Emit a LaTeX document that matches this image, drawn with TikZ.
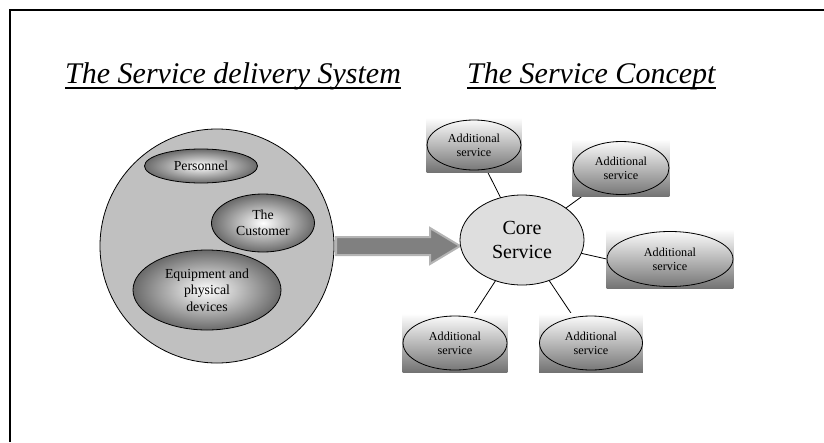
\documentclass[tikz,border=0pt]{standalone}
\usepackage{fontspec}
\setmainfont{Liberation Serif}
\usetikzlibrary{shapes.geometric,backgrounds}
\definecolor{sysgray}{HTML}{C0C0C0}
\definecolor{coregray}{HTML}{DEDEDE}
\definecolor{shadedark}{HTML}{6A6A6A}
\definecolor{addlmid}{HTML}{DADADA}
\definecolor{addldark}{HTML}{727272}
\definecolor{arrowfill}{HTML}{808080}
\definecolor{arrowedge}{HTML}{B4B4B4}
\begin{document}
\begin{tikzpicture}[x=1pt,y=-1pt,
  title/.style={inner sep=0pt,anchor=base west,font=\fontsize{30}{34}\selectfont\itshape},
  inbox/.style={ellipse,draw=black,line width=0.8pt,inner sep=0pt,
    inner color=white,outer color=shadedark,align=center,
    font=\fontsize{13.8}{16.3}\selectfont},
  addl/.style={ellipse,draw=black,line width=0.8pt,inner sep=0pt,align=center,
    font=\fontsize{12.2}{14}\selectfont},
  addlbg/.style={top color=white,middle color=addlmid,bottom color=addldark,draw=none},
  spoke/.style={draw=black,line width=0.8pt}]
\useasboundingbox (0,0) rectangle (824,442);
% frame
\draw[line width=2pt] (9.5,442) -- (9.5,9.5) -- (824,9.5);
% titles
\node[title] (t1) at (65,83) {The Service delivery System};
\node[title] (t2) at (467,83) {The Service Concept};
\draw[line width=1.8pt] ([yshift=-5pt]t1.base west) -- ([yshift=-5pt]t1.base east);
\draw[line width=1.8pt] ([yshift=-5pt]t2.base west) -- ([yshift=-5pt]t2.base east);
% service delivery system
\node[circle,draw=black,line width=0.8pt,fill=sysgray,minimum size=234pt,inner sep=0pt] (sys) at (217,246) {};
\node[inbox,minimum width=113pt,minimum height=34pt] (pers) at (201,166) {Personnel};
\node[inbox,minimum width=103pt,minimum height=58pt] (cust) at (263,223) {The\\Customer};
\node[inbox,minimum width=148pt,minimum height=80pt] (equip) at (207,290) {Equipment and\\physical\\devices};
% arrow
\filldraw[fill=arrowfill,draw=arrowedge,line width=2pt,line join=miter]
  (336,237) -- (430,237) -- (430,228) -- (460,246) -- (430,264) -- (430,255) -- (336,255) -- cycle;
% service concept
\node[ellipse,draw=black,line width=0.8pt,fill=coregray,minimum width=124pt,minimum height=90pt,inner sep=0pt,
  align=center,font=\fontsize{20}{24}\selectfont] (core) at (522,240) {Core\\Service};
\node[addl,minimum width=94pt,minimum height=50pt] (a1) at (474,145) {Additional\\service};
\node[addl,minimum width=96pt,minimum height=53pt] (a2) at (621,168) {Additional\\service};
\node[addl,minimum width=126pt,minimum height=55pt] (a3) at (670,259) {Additional\\service};
\node[addl,minimum width=104pt,minimum height=54pt] (a4) at (455,343) {Additional\\service};
\node[addl,minimum width=103pt,minimum height=54pt] (a5) at (591,343) {Additional\\service};
\begin{scope}[on background layer]
  \draw[spoke] (core.center) -- (a1.center);
  \draw[spoke] (core.center) -- (a2.center);
  \draw[spoke] (core.center) -- (a3.west);
  \draw[spoke] (core.center) -- (a4.center);
  \draw[spoke] (core.center) -- (a5.center);
  \foreach \n in {a1,a2,a3,a4,a5}{
    \shade[addlbg] ([yshift=2pt]\n.west |- \n.north) rectangle ([yshift=-2pt]\n.east |- \n.south);
  }
\end{scope}
\end{tikzpicture}
\end{document}
